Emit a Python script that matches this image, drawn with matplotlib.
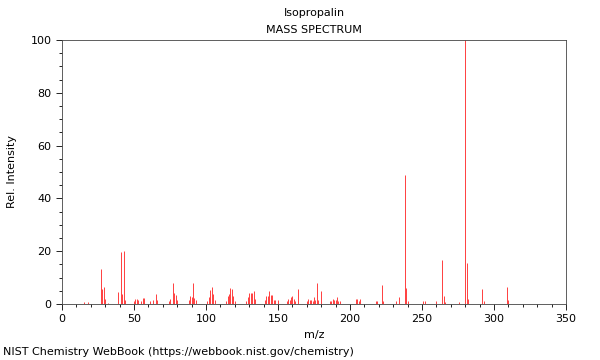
import numpy as np
import matplotlib
matplotlib.use('Agg')
import matplotlib.pyplot as plt
from matplotlib.ticker import MultipleLocator

# Isopropalin mass spectrum
mz = [15, 18, 27, 28, 29, 30, 32, 39, 41, 42, 43, 44,
      50, 51, 52, 53, 55, 56, 57, 61, 63, 65, 66,
      74, 75, 77, 78, 79, 80, 88, 89, 90, 91, 92, 93,
      101, 102, 103, 104, 105, 106,
      114, 115, 116, 117, 118, 119, 120,
      128, 129, 130, 131, 132, 133, 134,
      141, 142, 143, 144, 145, 146, 147, 148, 150,
      156, 157, 158, 159, 160, 161, 162, 164,
      170, 171, 172, 173, 174, 175, 176, 177, 178, 180,
      186, 187, 188, 189, 190, 191, 192, 193,
      204, 205, 206, 207, 218, 219, 222, 223,
      232, 234, 238, 239, 240,
      251, 252, 260, 264, 265, 266, 276,
      280, 281, 282, 292, 293, 309, 310]
intensity = [0.8, 0.8, 13.3, 5.5, 6.3, 2.0, 0.5, 4.6, 19.6, 3.6, 20.1, 1.5,
             1.0, 1.8, 2.0, 1.5, 1.2, 2.3, 2.2, 1.3, 1.5, 3.7, 1.5,
             1.3, 2.0, 7.8, 4.2, 3.4, 1.5, 1.5, 3.0, 2.6, 7.8, 2.3, 1.5,
             1.0, 2.8, 5.2, 6.3, 3.8, 1.5,
             1.0, 3.0, 3.7, 6.0, 5.6, 3.0, 1.3,
             1.3, 2.5, 4.2, 4.2, 4.3, 5.0, 2.0,
             1.5, 3.0, 3.0, 4.9, 3.5, 3.4, 1.5, 1.5, 1.5,
             1.2, 2.0, 1.5, 2.5, 3.2, 2.0, 1.2, 5.6,
             1.0, 2.0, 1.5, 1.5, 1.2, 2.5, 1.5, 7.8, 1.5, 4.9,
             1.0, 1.2, 1.8, 1.5, 1.5, 2.5, 1.2, 1.0,
             1.8, 2.0, 1.0, 2.0, 1.1, 1.0, 7.2, 1.0,
             1.0, 2.8, 49.0, 6.0, 1.0,
             1.0, 1.0, 1.0, 16.7, 3.0, 0.8, 0.8,
             100.0, 15.4, 2.0, 5.6, 1.2, 6.3, 1.5]

fig = plt.figure(figsize=(6, 3.6), dpi=100)
ax = fig.add_axes([62 / 600, 1 - 304 / 360, 504 / 600, 264 / 360])

ax.vlines(mz, 0, intensity, color='#ff2020', linewidth=0.6)

ax.set_xlim(0, 350)
ax.set_ylim(0, 100)
ax.xaxis.set_major_locator(MultipleLocator(50))
ax.xaxis.set_minor_locator(MultipleLocator(10))
ax.yaxis.set_major_locator(MultipleLocator(20))
ax.yaxis.set_minor_locator(MultipleLocator(5))
ax.tick_params(which='major', length=4, width=0.6, labelsize=8)
ax.tick_params(which='minor', length=2, width=0.6)
for s in ax.spines.values():
    s.set_linewidth(0.6)
    s.set_color('#444444')

ax.set_xlabel('m/z', fontsize=8)
ax.set_ylabel('Rel. Intensity', fontsize=8, labelpad=10)

fig.text(0.5233, 1 - 13 / 360, 'Isopropalin', ha='center', va='center', fontsize=8)
fig.text(0.5233, 1 - 30 / 360, 'MASS SPECTRUM', ha='center', va='center', fontsize=8)
fig.text(3 / 600, 1 - 352 / 360, 'NIST Chemistry WebBook (https://webbook.nist.gov/chemistry)',
         ha='left', va='center', fontsize=8)

fig.savefig('out.png', dpi=100)
